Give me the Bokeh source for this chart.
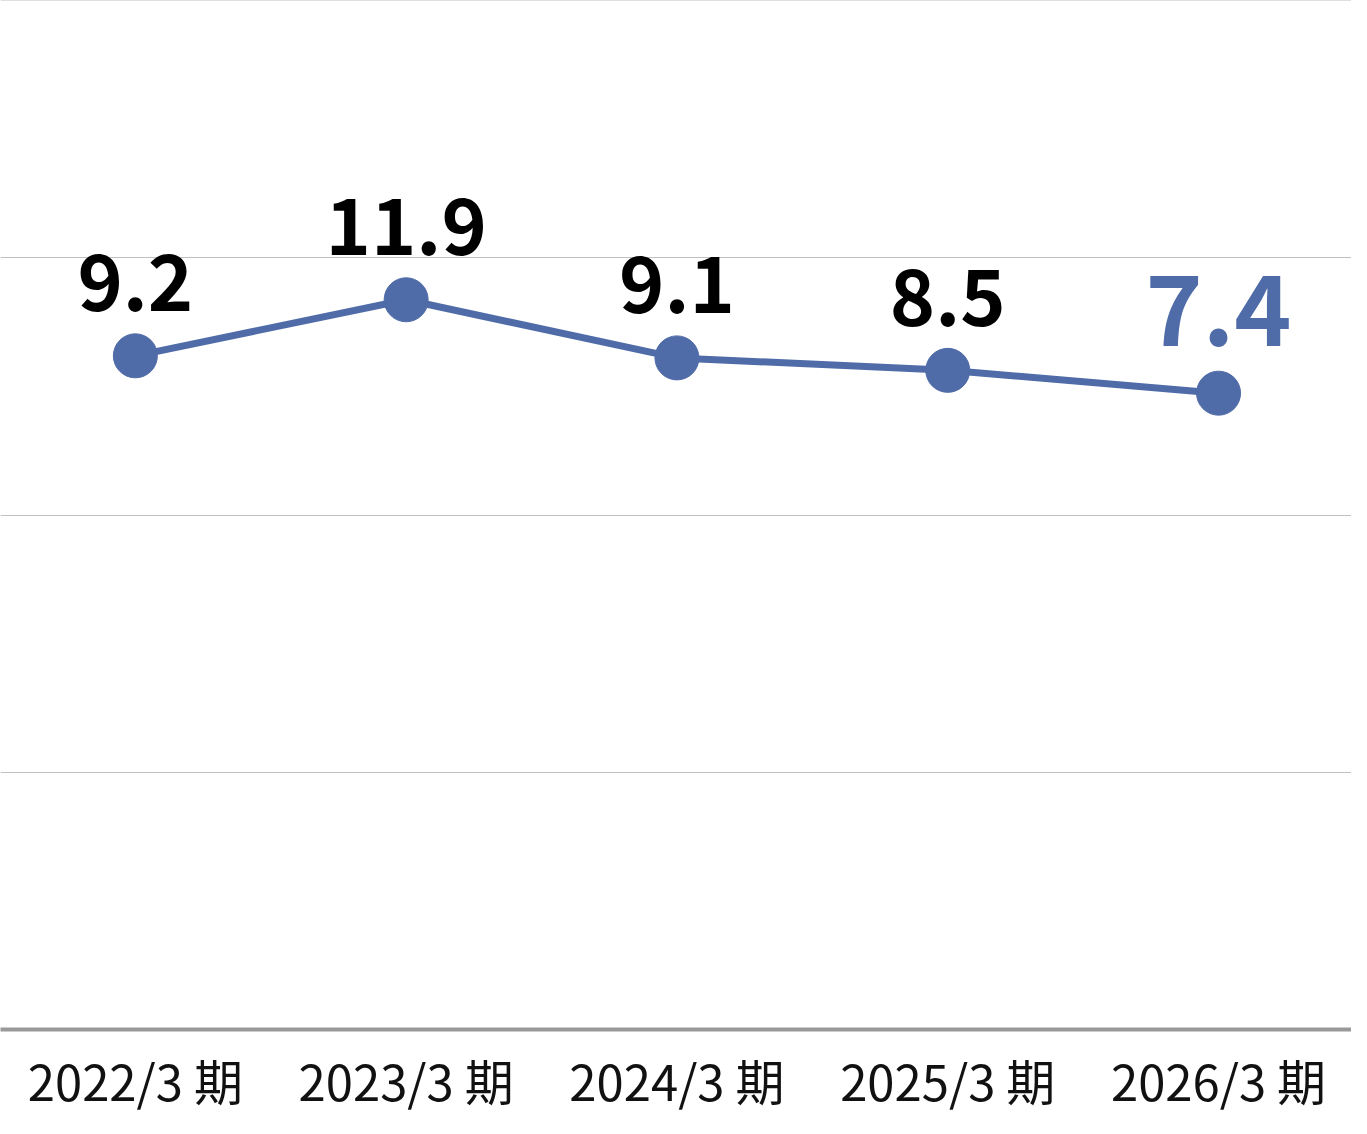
from bokeh.plotting import figure
from bokeh.models import Range1d, FixedTicker, ColumnDataSource
from bokeh.core.properties import value
from bokeh.embed import file_html
from bokeh.resources import INLINE

categories = ["2022/3 期", "2023/3 期", "2024/3 期", "2025/3 期", "2026/3 期"]
values = [9.2, 11.9, 9.1, 8.5, 7.4]
labels = ["9.2", "11.9", "9.1", "8.5", "7.4"]

BLUE = "#4f6ba8"
FONT = "Noto Sans CJK JP"

idx = list(range(len(categories)))
src = ColumnDataSource(dict(x=idx, y=values, label=labels))
src_hist = ColumnDataSource(dict(x=idx[:-1], y=values[:-1], label=labels[:-1]))
src_last = ColumnDataSource(dict(x=idx[-1:], y=values[-1:], label=labels[-1:]))

p = figure(width=1351, height=1118, output_backend="svg", toolbar_location=None,
           x_range=Range1d(-0.498, 4.491), y_range=Range1d(-23.26, 26.32),
           y_axis_location=None, min_border_left=0, min_border_right=0,
           min_border_top=0, min_border_bottom=89)
p.outline_line_color = None
p.background_fill_color = "white"
p.border_fill_color = "white"

p.xgrid.visible = False
p.ygrid.ticker = FixedTicker(ticks=[-10.86, 1.53, 13.92, 26.30])
p.ygrid.grid_line_color = "#c0c0c0"
p.ygrid.grid_line_width = 1

ax = p.xaxis[0]
ax.ticker = FixedTicker(ticks=idx)
ax.major_label_overrides = {i: c for i, c in zip(idx, categories)}
ax.axis_line_color = "#999999"
ax.axis_line_width = 4
ax.major_tick_line_color = None
ax.minor_tick_line_color = None
ax.major_label_text_font = FONT
ax.major_label_text_font_size = "49px"
ax.major_label_text_color = "#111111"
ax.major_label_standoff = 8

p.line("x", "y", source=src, line_color=BLUE, line_width=7)
p.scatter("x", "y", source=src, size=44, fill_color=BLUE, line_color=BLUE)

p.text("x", "y", text="label", source=src_hist, text_font=value(FONT),
       text_font_style="bold", text_font_size="77px", text_color="#000000",
       text_align="center", text_baseline="alphabetic", y_offset=-73)
p.text("x", "y", text="label", source=src_last, text_font=value(FONT),
       text_font_style="bold", text_font_size="97px", text_color=BLUE,
       text_align="center", text_baseline="alphabetic", y_offset=-83)

open("out.html", "w").write(file_html(p, INLINE))
